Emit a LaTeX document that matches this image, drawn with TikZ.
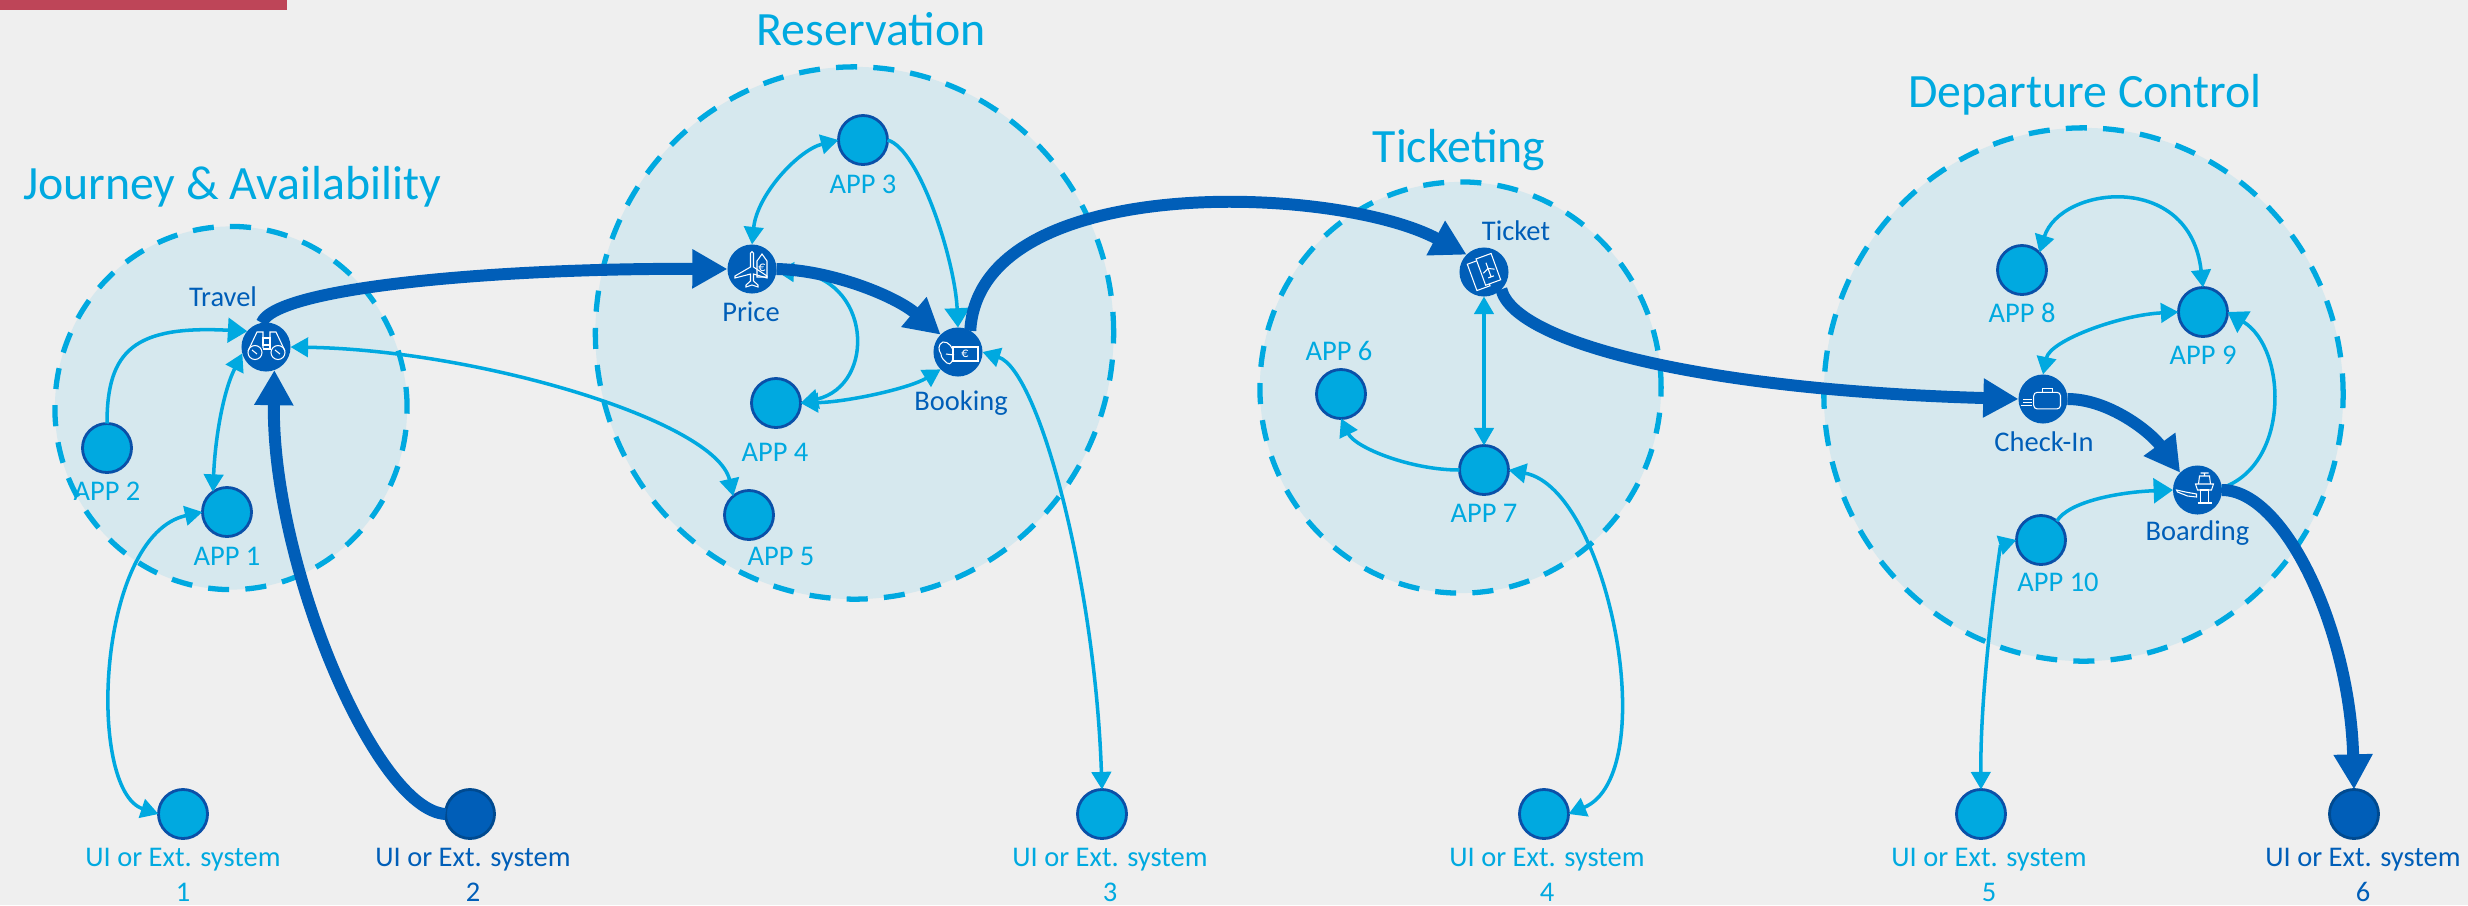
\documentclass[tikz,border=0pt]{standalone}
\usepackage{fontspec}
\setmainfont{Carlito}
\usetikzlibrary{shapes.geometric,arrows.meta,positioning}
\definecolor{pagebg}{HTML}{EFEFEF}
\definecolor{zonefill}{HTML}{D6E8EE}
\definecolor{cyanblue}{HTML}{00A9E0}
\definecolor{deepblue}{HTML}{005EB8}
\definecolor{rimblue}{HTML}{0A50A8}
\definecolor{rimdark}{HTML}{004A90}
\definecolor{topbar}{HTML}{BE4558}

\begin{document}
\begin{tikzpicture}[x=0.01cm,y=-0.01cm,every node/.style={outer sep=0pt,inner sep=0pt}]

\tikzstyle{zone}=[ellipse,fill=zonefill,draw=cyanblue,line width=1.5pt,dash pattern=on 6pt off 4.6pt]
\tikzstyle{title}=[text=cyanblue,font=\fontsize{13.6}{15}\selectfont]
\tikzstyle{appnode}=[circle,fill=cyanblue,draw=rimblue,line width=0.8pt,minimum size=0.49cm]
\tikzstyle{corenode}=[circle,fill=deepblue,minimum size=0.49cm]
\tikzstyle{extdark}=[circle,fill=deepblue,draw=rimdark,line width=0.8pt,minimum size=0.49cm]
\tikzstyle{applabel}=[text=cyanblue,font=\fontsize{8.1}{10}\selectfont]
\tikzstyle{corelabel}=[text=deepblue,font=\fontsize{8.1}{10}\selectfont]
\tikzstyle{link}=[draw=cyanblue,line width=1pt,>={Triangle[length=5pt,width=5.5pt]}]
\tikzstyle{wide}=[>={Triangle[length=5.5pt,width=7pt]}]
\tikzstyle{flow}=[draw=deepblue,line width=3.4pt,>={Triangle[length=10pt,width=10.5pt]}]
\tikzstyle{icon}=[draw=white,line width=0.3pt]

\useasboundingbox (0,0) rectangle (2468,905);
\fill[pagebg] (0,0) rectangle (2468,905);
\fill[topbar] (0,0) rectangle (287,10);

% zones
\node (journey) [zone,minimum width=3.52cm,minimum height=3.63cm] at (231,408) {};
\node (reservation) [zone,minimum width=5.18cm,minimum height=5.32cm] at (854.5,333) {};
\node (ticketing) [zone,minimum width=4.01cm,minimum height=4.11cm] at (1460.5,387.5) {};
\node (departure) [zone,minimum width=5.19cm,minimum height=5.33cm] at (2083.5,394.5) {};

\node (journeytitle) [title] at (232,187) {Journey \& Availability};
\node (reservationtitle) [title] at (871,29) {Reservation};
\node (ticketingtitle) [title] at (1459,150) {Ticketing};
\node (departuretitle) [title] at (2085,95) {Departure Control};

% core nodes
\node (travel) [corenode] at (266,347) {};
\node (price) [corenode] at (752,269) {};
\node (booking) [corenode] at (958,352) {};
\node (ticket) [corenode] at (1484,272) {};
\node (checkin) [corenode] at (2043,399) {};
\node (boarding) [corenode] at (2197.5,490) {};

\node (travellabel) [corelabel] at (223,297) {Travel};
\node (pricelabel) [corelabel] at (751,312) {Price};
\node (bookinglabel) [corelabel] at (961,403) {Booking};
\node (ticketlabel) [corelabel] at (1516,231) {Ticket};
\node (checkinlabel) [corelabel] at (2044,442) {Check-In};
\node (boardinglabel) [corelabel] at (2197.5,533) {Boarding};

% applications
\node (app1) [appnode] at (227,512) {};
\node (app2) [appnode] at (107,448) {};
\node (app3) [appnode] at (863,140) {};
\node (app4) [appnode] at (776,403) {};
\node (app5) [appnode] at (749,515) {};
\node (app6) [appnode] at (1341,394) {};
\node (app7) [appnode] at (1484,470) {};
\node (app8) [appnode] at (2022,270) {};
\node (app9) [appnode] at (2203,312) {};
\node (app10) [appnode] at (2041,540) {};

\node (app1label) [applabel] at (227,556) {APP 1};
\node (app2label) [applabel] at (107,491) {APP 2};
\node (app3label) [applabel] at (863,184) {APP 3};
\node (app4label) [applabel] at (775,452) {APP 4};
\node (app5label) [applabel] at (781,556) {APP 5};
\node (app6label) [applabel] at (1339,351) {APP 6};
\node (app7label) [applabel] at (1484,513) {APP 7};
\node (app8label) [applabel] at (2022,313) {APP 8};
\node (app9label) [applabel] at (2203,355) {APP 9};
\node (app10label) [applabel] at (2058,582) {APP 10};

% external systems
\node (ext1) [appnode] at (183,814) {};
\node (ext2) [extdark] at (470,814) {};
\node (ext3) [appnode] at (1102,814) {};
\node (ext4) [appnode] at (1544,814) {};
\node (ext5) [appnode] at (1981,814) {};
\node (ext6) [extdark] at (2354,814) {};

\node (ext1label) [applabel,align=center] at (183,875) {UI or Ext. system\\1};
\node (ext2label) [corelabel,align=center] at (473,875) {UI or Ext. system\\2};
\node (ext3label) [applabel,align=center] at (1110,875) {UI or Ext. system\\3};
\node (ext4label) [applabel,align=center] at (1547,875) {UI or Ext. system\\4};
\node (ext5label) [applabel,align=center] at (1989,875) {UI or Ext. system\\5};
\node (ext6label) [corelabel,align=center] at (2363,875) {UI or Ext. system\\6};

% thin links
\draw [link,wide,->] (app2.north) .. controls +(0,-73) and +(-113,-6) .. (travel.140);
\draw [link,<->] (app1.125) .. controls +(2,-50) and +(-20,40) .. (travel.195);
\draw [link,<->] (app1.west) .. controls +(-106,23) and +(-72,-24) .. (ext1.west);
\draw [link,<->] (travel.east) .. controls +(188,3) and +(-17,-75) .. (app5.130);
\draw [link,<->] (price.north) .. controls +(5,-50) and +(-40,10) .. (app3.west);
\draw [link,wide,->] (app3.east) .. controls +(32,9) and +(-3,-67) .. (booking.north);
\draw [link,<->] (price.-5) .. controls +(95,5) and +(77,-18) .. (app4.east);
\draw [link,<->] (app4.east) .. controls +(47,-1) and +(-31,19) .. (booking.-135);
\draw [link,<->] (booking.east) .. controls +(56,18) and +(-7,-209) .. (ext3.north);
\draw [link,<->] (ticket.south) -- (app7.north);
\draw [link,->] (app7.west) .. controls +(-49,0) and +(14,29) .. (app6.south);
\draw [link,<->] (app7.east) .. controls +(100,19) and +(95,-40) .. (ext4.east);
\draw [link,<->] (app8.45) .. controls +(21,-67) and +(-13,-117) .. (app9.north);
\draw [link,<->] (checkin.north) .. controls +(7,-34) and +(-59,3) .. (app9.west);
\draw [link,wide,->] (boarding.5) .. controls +(68,-23) and +(60,37) .. (app9.east);
\draw [link,wide,->] (app10.50) .. controls +(12,-20) and +(-53,2) .. (boarding.west);
\draw [link,<->] (app10.west) .. controls +(-16,5) and +(-1,-109) .. (ext5.north);

% main flow
\draw [flow,->] (ext2.west) .. controls +(-70,-4) and +(-3,193) .. (travel.-70);
\draw [flow,->] (travel.100) .. controls +(14,-36) and +(-228,-1) .. (price.west);
\draw [flow,->] (price.east) .. controls +(54,1) and +(-46,-39) .. (booking.135);
\draw [flow,->] (booking.60) .. controls +(9,-160) and +(-130,-70) .. (ticket.135);
\draw [flow,->] (ticket.-45) .. controls +(13,53) and +(-319,-9) .. (checkin.west);
\draw [flow,->] (checkin.east) .. controls +(41,0) and +(-30,-41) .. (boarding.135);
\draw [flow,->] (boarding.east) .. controls +(63,0) and +(-4,-159) .. (ext6.north);

% binoculars
\begin{scope}[shift={(travel)}]
\draw [icon] (-11,5.5) circle (7) (12,5.5) circle (7);
\draw [icon] (-18,4) -- (-9,-15) -- (-3,-15) -- (-3,1) (19,4) -- (10,-15) -- (4,-15) -- (4,1);
\draw [icon] (-3,-9) rectangle (4,-2) (-3,-2) -- (4,-2) -- (4,2) -- (-3,2);
\draw [icon] (-14,3) -- (-9,7) (9,3) -- (14,7);
\end{scope}

% plane and price tag
\begin{scope}[shift={(price)}]
\draw [icon] (-1.5,-8) -- (-1.5,-16) arc (180:360:1.5) -- (1.5,-2) -- (15,7) -- (15,9) -- (1.5,5) -- (1.5,12) -- (6,16) -- (6,18) -- (0,16) -- (-6,18) -- (-6,16) -- (-1.5,12) -- (-1.5,5) -- (-17,9) -- (-17,7) -- (-1.5,-2) -- cycle;
\draw [icon] (5,-8) -- (10,-15) -- (15,-8) -- (15,8) -- (5,8) -- cycle;
\node (priceeuro) [text=white,font=\fontsize{4}{4}\selectfont] at (10,-1) {€};
\end{scope}

% hand and card
\begin{scope}[shift={(booking)}]
\draw [icon] (-5,-5) rectangle (20,9);
\draw [icon] (-5,1) .. controls (-4,-4) and (-10,-11) .. (-15,-10) .. controls (-20,-8) and (-20,-2) .. (-17,2) .. controls (-17,6) and (-14,8) .. (-11,11) .. controls (-7,14) and (-5,8) .. (-5,5);
\draw [icon] (-12,2) -- (-4,3);
\node (bookingeuro) [text=white,font=\fontsize{4}{4}\selectfont] at (7,2) {€};
\end{scope}

% tickets
\begin{scope}[shift={(ticket)},rotate=20]
\draw [icon] (-13,-13) rectangle (1,15);
\draw [icon,fill=deepblue] (-3,-15) rectangle (13,13);
\draw [icon] (5,-8) -- (5,7) (-1,1) -- (5,-2) -- (11,1) (2,7) -- (8,7);
\end{scope}

% suitcase
\begin{scope}[shift={(checkin)}]
\draw [icon,rounded corners=1pt] (-9.3,-6.7) rectangle (17.5,9.9);
\draw [icon] (-0.4,-6.7) -- (-0.4,-10.5) -- (9.6,-10.5) -- (9.6,-6.7);
\draw [icon] (-20,0.5) -- (-11,0.5) (-20,3.6) -- (-11,3.6) (-22,6.8) -- (-11,6.8);
\end{scope}

% tower and plane
\begin{scope}[shift={(boarding)}]
\draw [icon] (3,0) rectangle (11,13) (0,13) -- (14,13);
\draw [icon] (-2,-6) -- (16,-6) -- (14,0) -- (0,0) -- cycle;
\draw [icon] (1,-6) -- (2,-14) -- (12,-14) -- (13,-6) (3,-17) -- (11,-17) (7,-17) -- (7,-14);
\draw [icon] (-21,0) -- (-12,2) -- (-1,4) -- (-1,7) -- (-10,6) -- (-20,2) -- cycle;
\end{scope}

\end{tikzpicture}
\end{document}
